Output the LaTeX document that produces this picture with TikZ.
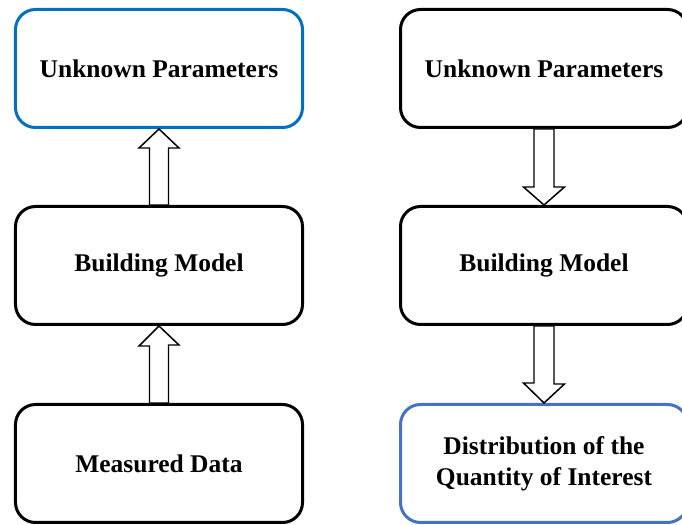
\documentclass[tikz,border=0pt]{standalone}
\usepackage{fontspec}
\setmainfont{Liberation Serif}
\definecolor{boxblue}{RGB}{0,112,192}
\definecolor{outblue}{RGB}{68,114,196}
\tikzset{
  stage/.style={draw, rectangle, rounded corners=0.4cm, line width=0.06cm,
    minimum width=5.74cm, minimum height=2.36cm, align=center,
    font=\fontsize{14.5}{17.6}\selectfont\bfseries},
  hollow/.style={draw, line width=0.85pt, fill=white, line join=miter}
}
\begin{document}
\begin{tikzpicture}
        \useasboundingbox (0,0) rectangle (13.64,10.5);
        % Left: calibration
        \node[stage, draw=boxblue] (upL) at (3.18,9.13) {Unknown Parameters};
        \node[stage] (bmL) at (3.18,5.19) {Building Model};
        \node[stage] (md) at (3.18,1.23) {Measured Data};

        % Right: propagation
        \node[stage] (upR) at (10.88,9.13) {Unknown Parameters};
        \node[stage] (bmR) at (10.88,5.19) {Building Model};
        \node[stage, draw=outblue] (qoi) at (10.88,1.23) {Distribution of the\\Quantity of Interest};

        % Upward block arrows
        \draw[hollow] (upL.south) -- ++(0.4,-0.38) -- ++(-0.21,0) -- ([xshift=0.19cm]bmL.north) -- ([xshift=-0.19cm]bmL.north) -- ++(0,1.14) -- ++(-0.21,0) -- cycle;
        \draw[hollow] (bmL.south) -- ++(0.4,-0.38) -- ++(-0.21,0) -- ([xshift=0.19cm]md.north) -- ([xshift=-0.19cm]md.north) -- ++(0,1.14) -- ++(-0.21,0) -- cycle;

        % Downward block arrows
        \draw[hollow] (bmR.north) -- ++(0.41,0.36) -- ++(-0.21,0) -- ([xshift=0.2cm]upR.south) -- ([xshift=-0.2cm]upR.south) -- ++(0,-1.16) -- ++(-0.21,0) -- cycle;
        \draw[hollow] (qoi.north) -- ++(0.41,0.38) -- ++(-0.21,0) -- ([xshift=0.2cm]bmR.south) -- ([xshift=-0.2cm]bmR.south) -- ++(0,-1.14) -- ++(-0.21,0) -- cycle;
\end{tikzpicture}
\end{document}
